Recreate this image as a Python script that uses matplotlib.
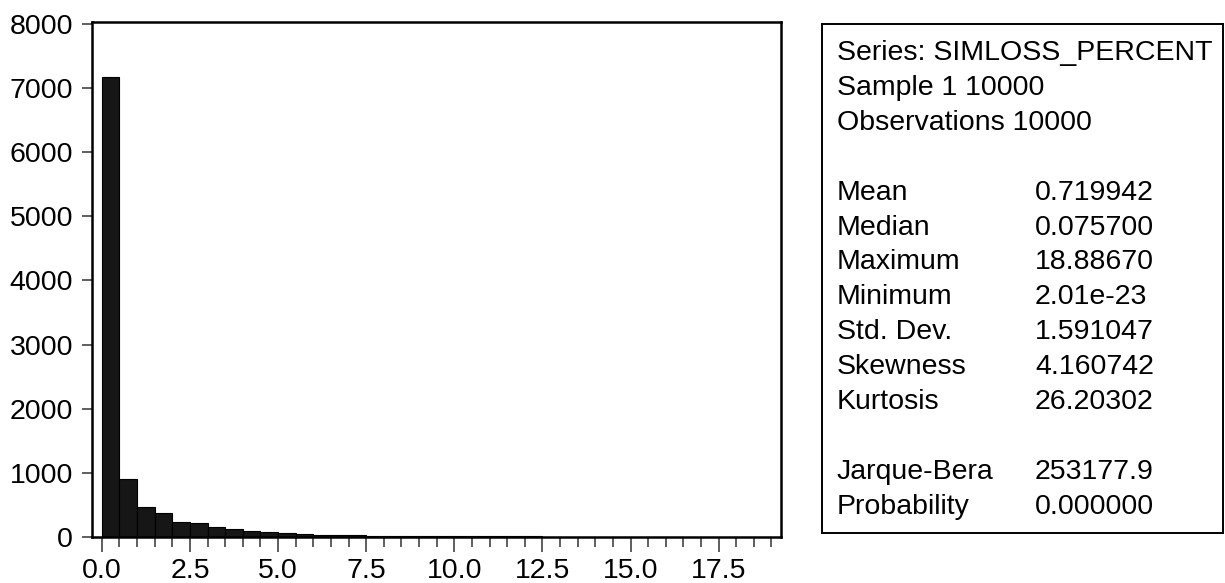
import numpy as np
import matplotlib
matplotlib.use('Agg')
import matplotlib.pyplot as plt
from matplotlib.ticker import MultipleLocator

plt.rcParams['font.family'] = ['Liberation Sans', 'DejaVu Sans']
plt.rcParams['font.size'] = 20.5

# histogram counts, bins of width 0.5 starting at 0.0
bin_width = 0.5
counts = [7180, 900, 470, 375, 235, 225, 150, 122, 95, 75,
          60, 45, 35, 38, 25, 22, 20, 18, 16, 16,
          10, 9, 9, 8, 8, 7, 3, 7, 7, 4,
          5, 4, 0, 0, 0, 3, 3, 2]
bin_left = np.arange(len(counts)) * bin_width

header_lines = ['Series: SIMLOSS_PERCENT', 'Sample 1 10000', 'Observations 10000']
stat_names = ['Mean', 'Median', 'Maximum', 'Minimum', 'Std. Dev.', 'Skewness', 'Kurtosis']
stat_values = ['0.719942', '0.075700', '18.88670', '2.01e-23', '1.591047', '4.160742', '26.20302']
test_names = ['Jarque-Bera', 'Probability']
test_values = ['253177.9', '0.000000']

W, H = 1225, 583
fig = plt.figure(figsize=(W / 100, H / 100), dpi=100)

# histogram panel (pixel box 92..781 x 22..537)
ax = fig.add_axes([92 / W, 1 - 537 / H, (781 - 92) / W, (537 - 22) / H])
ax.bar(bin_left, counts, width=bin_width, align='edge', color='#161616',
       edgecolor='black', linewidth=0.8)
ax.set_xlim(-0.28, 19.27)
ax.set_ylim(0, 8030)
ax.set_yticks(np.arange(0, 8001, 1000))
ax.xaxis.set_major_locator(MultipleLocator(2.5))
ax.xaxis.set_minor_locator(MultipleLocator(0.5))
ax.xaxis.set_major_formatter(plt.FormatStrFormatter('%.1f'))
ax.tick_params(axis='x', which='major', length=10.8, width=1.1, pad=4, color='#333333')
ax.tick_params(axis='x', which='minor', length=7.2, width=1.1, color='#333333')
ax.tick_params(axis='y', which='major', length=7.2, width=1.1, pad=6.5, color='#333333')
ax.tick_params(top=False, right=False)
for s in ax.spines.values():
    s.set_linewidth(1.8)

# statistics box (pixel box 822..1223 x 24..533), data coords = pixels
bx = fig.add_axes([822 / W, 1 - 533 / H, (1223 - 822) / W, (533 - 24) / H])
bx.set_xlim(822, 1223)
bx.set_ylim(533, 24)
bx.set_xticks([])
bx.set_yticks([])
for s in bx.spines.values():
    s.set_linewidth(1.4)

row_step = 34.9
y0 = 53
x_name, x_val = 837, 1035
for i, line in enumerate(header_lines):
    bx.text(x_name, y0 + i * row_step, line, va='center', ha='left')
for i, (n, v) in enumerate(zip(stat_names, stat_values)):
    y = y0 + (i + 4) * row_step
    bx.text(x_name, y, n, va='center', ha='left')
    bx.text(x_val, y, v, va='center', ha='left')
for i, (n, v) in enumerate(zip(test_names, test_values)):
    y = y0 + (i + 12) * row_step
    bx.text(x_name, y, n, va='center', ha='left')
    bx.text(x_val, y, v, va='center', ha='left')

fig.savefig('out.png', dpi=100)
